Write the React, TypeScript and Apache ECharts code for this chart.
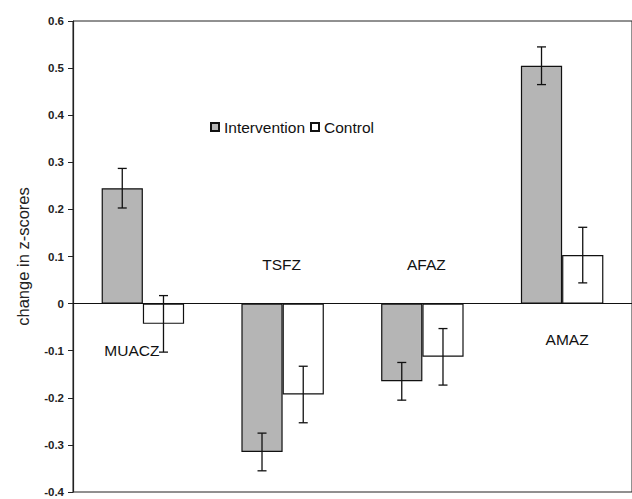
import React, { useEffect, useRef } from "react";
import * as echarts from "echarts";

const categories = ["MUACZ", "TSFZ", "AFAZ", "AMAZ"];
const intervention = [0.245, -0.315, -0.165, 0.505];
const control = [-0.043, -0.193, -0.113, 0.103];
const interventionErr = [0.042, 0.04, 0.04, 0.04];
const controlErr = [0.06, 0.06, 0.06, 0.059];
const labelY = [-0.099, 0.082, 0.082, -0.077];
const labelDx = [-11, -1, 4, 5];
const yTicks = [-0.4, -0.3, -0.2, -0.1, 0, 0.1, 0.2, 0.3, 0.4, 0.5, 0.6];

const FONT = "Liberation Sans, Arial, sans-serif";

export default function App() {
  const ref = useRef<HTMLDivElement>(null);
  useEffect(() => {
    document.body.style.margin = "0";
    const chart = echarts.init(ref.current!, null, { renderer: "svg" });
    const bandFrac = 0.59;

    const errRender = (side: number, errs: number[]) => (params: any, api: any) => {
      const idx = api.value(0);
      const v = api.value(1);
      const e = errs[idx];
      const band = api.size([1, 0])[0];
      const bw = (band * bandFrac) / 2;
      const c = api.coord([idx, v]);
      const x = c[0] + side * bw / 2;
      const top = api.coord([idx, v + e])[1];
      const bot = api.coord([idx, v - e])[1];
      const cap = 4.5;
      const st = { stroke: "#111", lineWidth: 1.3 };
      return {
        type: "group",
        children: [
          { type: "line", shape: { x1: x, y1: top, x2: x, y2: bot }, style: st },
          { type: "line", shape: { x1: x - cap, y1: top, x2: x + cap, y2: top }, style: st },
          { type: "line", shape: { x1: x - cap, y1: bot, x2: x + cap, y2: bot }, style: st },
        ],
      };
    };

    chart.setOption({
      animation: false,
      backgroundColor: "#fff",
      grid: {
        left: 73,
        top: 21,
        width: 568,
        height: 471,
        show: true,
        borderColor: "#222",
        borderWidth: 1,
        backgroundColor: "transparent",
      },
      legend: {
        left: 205,
        top: 114,
        itemWidth: 8,
        itemHeight: 8,
        itemGap: 5,
        icon: "rect",
        textStyle: { fontFamily: FONT, fontSize: 15.5, color: "#111", padding: [0, 0, 0, 0] },
        data: ["Intervention", "Control"],
      },
      xAxis: {
        type: "category",
        data: categories,
        axisLine: { onZero: true, lineStyle: { color: "#111", width: 1.2 } },
        axisTick: { show: false },
        axisLabel: { show: false },
        splitLine: { show: false },
      },
      yAxis: {
        type: "value",
        min: -0.4,
        max: 0.6,
        interval: 0.1,
        name: "change in z-scores",
        nameLocation: "middle",
        nameRotate: 90,
        nameGap: 42,
        nameTextStyle: { fontFamily: FONT, fontSize: 16.5, color: "#222" },
        axisLine: { show: true, lineStyle: { color: "#222", width: 1.2 } },
        axisTick: { show: true, length: 5, inside: false, lineStyle: { color: "#222" } },
        splitLine: { show: false },
        axisLabel: {
          fontFamily: FONT,
          fontSize: 11.5,
          fontWeight: "bold",
          color: "#222",
          margin: 9,
          formatter: (v: number) => {
            const t = yTicks.find((k) => Math.abs(k - v) < 1e-9);
            const val = t === undefined ? v : t;
            return Math.abs(val) < 1e-9 ? "0" : val.toFixed(1);
          },
        },
      },
      series: [
        {
          name: "Intervention",
          type: "bar",
          data: intervention,
          barGap: "0%",
          barCategoryGap: "41%",
          itemStyle: { color: "#b5b5b5", borderColor: "#111", borderWidth: 1.2 },
        },
        {
          name: "Control",
          type: "bar",
          data: control,
          barGap: "0%",
          barCategoryGap: "41%",
          itemStyle: { color: "#ffffff", borderColor: "#111", borderWidth: 1.2 },
        },
        {
          type: "custom",
          renderItem: errRender(-1, interventionErr),
          data: intervention.map((v, i) => [i, v]),
          z: 10,
          silent: true,
        },
        {
          type: "custom",
          renderItem: errRender(1, controlErr),
          data: control.map((v, i) => [i, v]),
          z: 10,
          silent: true,
        },
        {
          type: "custom",
          data: labelY.map((v, i) => [i, v]),
          z: 11,
          silent: true,
          renderItem: (params: any, api: any) => {
            const idx = api.value(0);
            const c = api.coord([idx, api.value(1)]);
            return {
              type: "text",
              x: c[0] + labelDx[idx],
              y: c[1],
              style: {
                text: categories[idx],
                fontFamily: FONT,
                fontSize: 15.5,
                fill: "#111",
                align: "center",
                verticalAlign: "middle",
                textAlign: "center",
                textVerticalAlign: "middle",
              },
            };
          },
        },
      ],
    });
    return () => chart.dispose();
  }, []);
  return <div ref={ref} style={{ width: 632, height: 499 }} />;
}
